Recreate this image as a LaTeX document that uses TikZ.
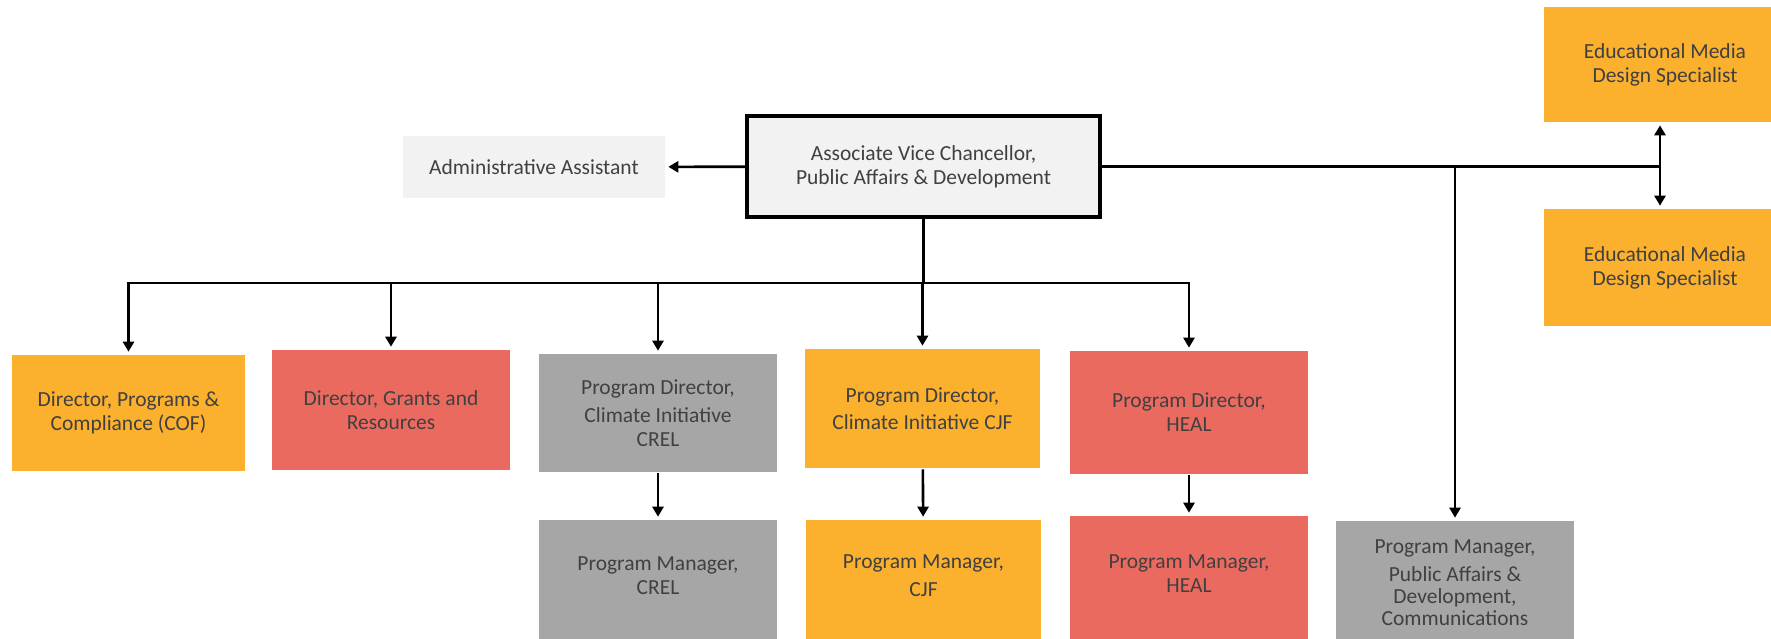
\documentclass[tikz,border=0pt]{standalone}
\usepackage{fontspec}
\setmainfont{Carlito}
\usetikzlibrary{arrows.meta, positioning}
\definecolor{gold}{HTML}{FBB02E}
\definecolor{coral}{HTML}{EB6A60}
\definecolor{stone}{HTML}{A6A6A6}
\definecolor{paper}{HTML}{F2F2F2}
\definecolor{txt}{HTML}{404040}

\begin{document}
\begin{tikzpicture}[x=1pt, y=-1pt, >={Triangle[length=10pt,width=11pt]}, line width=2.6pt,
    every node/.style={font=\fontsize{21.5}{24}\selectfont, text=txt, align=center, inner sep=0pt},
    box/.style={minimum width=238pt, minimum height=118pt},
    goldbox/.style={box, fill=gold},
    redbox/.style={box, fill=coral},
    greybox/.style={box, fill=stone},
    lightbox/.style={fill=paper},
    chiefbox/.style={draw, line width=4pt, fill=paper, minimum width=353pt, minimum height=101pt},
    conn/.style={->, shorten >=2pt}]
    \useasboundingbox (0,0) rectangle (1771,638);
    \clip (0,0) rectangle (1771,638);

    % top of the chart
    \node[chiefbox] (avc) at (923.5,166.5) {Associate Vice Chancellor,\\Public Affairs \& Development};
    \node[lightbox, minimum width=262pt, minimum height=62pt] (admin) at (534,167) {Administrative Assistant};
    \node[goldbox, minimum width=242pt, minimum height=115pt] (media1) at (1665,64.5) {Educational Media\\Design Specialist};
    \node[goldbox, minimum width=242pt, minimum height=117pt] (media2) at (1665,267.5) {Educational Media\\Design Specialist};

    % directors
    \node[goldbox, minimum width=233pt, minimum height=116pt] (cof) at (128.5,413) {Director, Programs \&\\Compliance (COF)};
    \node[redbox, minimum height=120pt] (grants) at (391,410) {Director, Grants and\\Resources};
    \node[greybox] (crel) at (658,413) {Program Director,\\[3.5pt]Climate Initiative\\CREL};
    \node[goldbox, minimum width=235pt, minimum height=119pt] (cjf) at (922.5,408.5) {Program Director,\\[3.5pt]Climate Initiative CJF};
    \node[redbox, minimum height=123pt] (heal) at (1189,412.5) {Program Director,\\HEAL};

    % managers
    \node[greybox, minimum height=125pt] (pmcrel) at (658,582.5) {Program Manager,\\CREL\\[-10pt]};
    \node[goldbox, minimum width=235pt, minimum height=125pt] (pmcjf) at (923.5,582.5) {Program Manager,\\[3.5pt]CJF\\[-10pt]};
    \node[redbox, minimum height=129pt] (pmheal) at (1189,580.5) {Program Manager,\\HEAL\\[-10pt]};
    \node[greybox, minimum height=124pt] (pmpad) at (1455,583) {Program Manager,\\[4pt]Public Affairs \&\\[-2pt]Development,\\[-2pt]Communications};

    % connectors
    \coordinate (bus) at (923,283);
    \coordinate (mediajoint) at (1660,166.5);
    \draw[conn] (avc) -- (admin);
    \draw[line width=3.2pt] (avc.south) -- (avc.south |- bus);
    \draw[line cap=rect] (cof.north |- bus) -- (heal.north |- bus);
    \foreach \n in {cof,grants,crel,cjf,heal}
        \draw[conn] (\n.north |- bus) -- (\n.north);
    \foreach \a/\b in {crel/pmcrel,cjf/pmcjf,heal/pmheal}
        \draw[conn] (\a) -- (\b);
    \draw (avc.east) -- (mediajoint);
    \draw[conn] (mediajoint) -- (mediajoint |- media1.south);
    \draw[conn] (mediajoint) -- (mediajoint |- media2.north);
    \draw[conn] (avc.east -| pmpad.north) -- (pmpad.north);
\end{tikzpicture}
\end{document}
